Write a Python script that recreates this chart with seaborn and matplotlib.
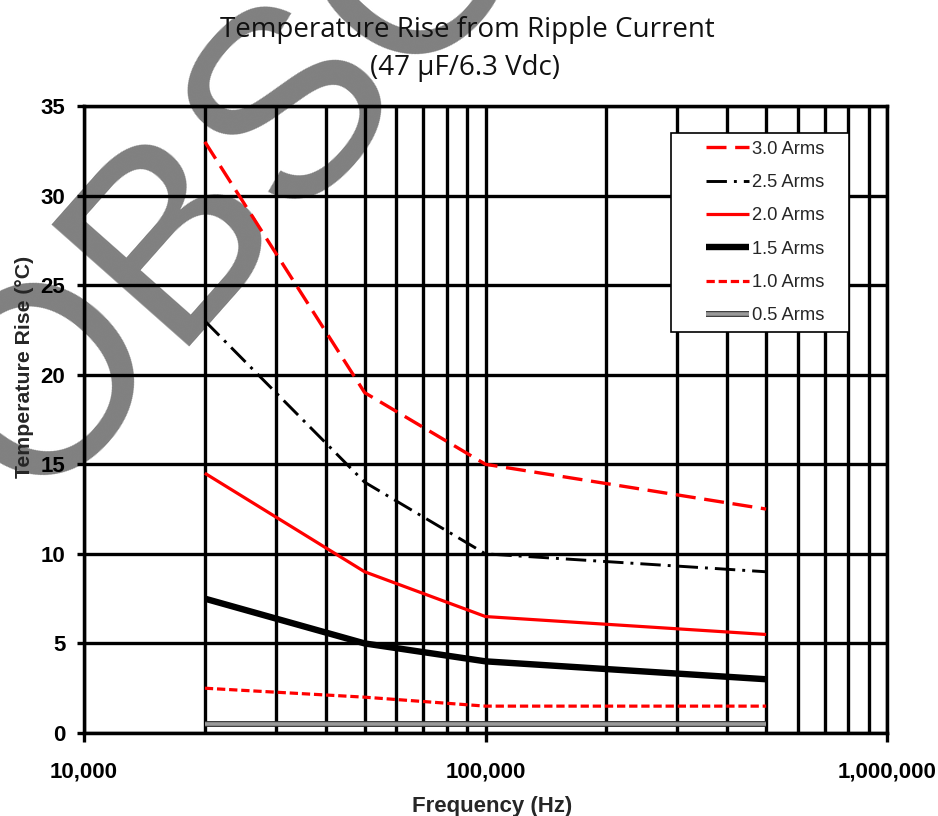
import numpy as np
import pandas as pd
import seaborn as sns
import matplotlib
matplotlib.use('Agg')
from matplotlib import pyplot as plt
from matplotlib import patheffects as pe
from matplotlib.lines import Line2D
from matplotlib.legend_handler import HandlerLine2D
from matplotlib.ticker import FixedLocator, LogLocator, NullFormatter

# data
frequency_hz = [20000, 50000, 100000, 500000]
currents = ['3.0 Arms', '2.5 Arms', '2.0 Arms', '1.5 Arms', '1.0 Arms', '0.5 Arms']
rise_3_0 = [33, 19, 15, 12.5]
rise_2_5 = [23, 14, 10, 9]
rise_2_0 = [14.5, 9, 6.5, 5.5]
rise_1_5 = [7.5, 5, 4, 3]
rise_1_0 = [2.5, 2, 1.5, 1.5]
rise_0_5 = [0.5, 0.5, 0.5, 0.5]
x_ticks = [10000, 100000, 1000000]
x_tick_labels = ['10,000', '100,000', '1,000,000']
y_ticks = [0, 5, 10, 15, 20, 25, 30, 35]

df = pd.DataFrame({
    'freq': frequency_hz * len(currents),
    'rise': rise_3_0 + rise_2_5 + rise_2_0 + rise_1_5 + rise_1_0 + rise_0_5,
    'current': np.repeat(currents, len(frequency_hz)),
})

palette = {'3.0 Arms': '#ff0000', '2.5 Arms': 'black', '2.0 Arms': '#ff0000',
           '1.5 Arms': 'black', '1.0 Arms': '#ff0000', '0.5 Arms': '#9a9a9a'}
sizes = {'3.0 Arms': 2.4, '2.5 Arms': 2.1, '2.0 Arms': 2.3,
         '1.5 Arms': 4.6, '1.0 Arms': 2.3, '0.5 Arms': 2.6}
dashes = {'3.0 Arms': (6, 2.6), '2.5 Arms': (7, 2.4, 1, 2.4), '2.0 Arms': '',
          '1.5 Arms': '', '1.0 Arms': (2.6, 1.2), '0.5 Arms': ''}

sns.set_theme(style='white')
plt.rcParams['font.family'] = ['Liberation Sans', 'DejaVu Sans']

fig = plt.figure(figsize=(9.38, 8.16), dpi=100)
fig.patch.set_facecolor('white')
ax = fig.add_axes([84 / 938, 1 - 733 / 816, 803 / 938, 627 / 816])
ax.set_facecolor('none')
ax.set_xscale('log')

sns.lineplot(data=df, x='freq', y='rise', hue='current', size='current', style='current',
             hue_order=currents, size_order=currents, style_order=currents,
             palette=palette, sizes=sizes, dashes=dashes, legend=False,
             errorbar=None, ax=ax, zorder=3)

for line, name in zip(ax.lines, currents):
    line.set_solid_capstyle('butt')
    if name == '0.5 Arms':
        line.set_path_effects([pe.Stroke(linewidth=4.2, foreground='#303030'), pe.Normal()])

ax.set_xlim(1e4, 1e6)
ax.set_ylim(0, 35)
ax.xaxis.set_major_locator(FixedLocator(x_ticks))
ax.set_xticklabels(x_tick_labels, fontweight='bold')
ax.xaxis.set_minor_locator(LogLocator(base=10, subs=range(2, 10)))
ax.xaxis.set_minor_formatter(NullFormatter())
ax.set_yticks(y_ticks)
ax.set_yticklabels([str(v) for v in y_ticks], fontweight='bold')
ax.set_xlabel('')
ax.set_ylabel('')

ax.set_axisbelow(True)
ax.grid(True, which='both', color='black', linewidth=2.4)
ax.tick_params(axis='x', which='major', direction='out', length=6.5, width=2.4,
               pad=14, labelsize=16, color='black', labelcolor='black')
ax.tick_params(axis='x', which='minor', length=0)
ax.tick_params(axis='y', direction='out', length=5, width=2.4, pad=8.5,
               labelsize=16, color='black', labelcolor='black', left=True)
ax.tick_params(axis='x', bottom=True)
for spine in ax.spines.values():
    spine.set_visible(True)
    spine.set_color('black')
    spine.set_linewidth(2.5)

leg = ax.legend(ax.lines, currents, loc='upper left',
                bbox_to_anchor=(0.731, 0, 0.2217, 0.957), mode='expand',
                borderaxespad=0, fontsize=13.2, frameon=True, fancybox=False,
                edgecolor='black', framealpha=1, handlelength=3.86,
                handletextpad=0.15, labelspacing=0.89, borderpad=0.42,
                handler_map={Line2D: HandlerLine2D(xpad=1.47)})
leg.get_frame().set_linewidth(1.2)
leg.set_zorder(5)

# titles and axis labels
fig.text(0.498, 1 - 37 / 816, 'Temperature Rise from Ripple Current',
         ha='center', va='baseline', fontsize=20, family='Open Sans', color='#111111')
fig.text(0.496, 1 - 75 / 816, '(47 µF/6.3 Vdc)',
         ha='center', va='baseline', fontsize=20, family='Open Sans', color='#111111')
fig.text(25 / 938, 1 - 367 / 816, 'Temperature Rise (°C)', rotation=90,
         ha='center', va='center', fontsize=15.3, fontweight='bold')
fig.text(492 / 938, 1 - 796 / 816, 'Frequency (Hz)',
         ha='center', va='top', fontsize=16, fontweight='bold')

# watermark behind everything
fig.text(34 / 938, 1 - 508 / 816, 'OBSOLETE', rotation=48.5, rotation_mode='anchor',
         ha='left', va='baseline', fontsize=192, family='Liberation Sans',
         color='#808080', zorder=-1)

fig.savefig('out.png', dpi=100, facecolor='white')
